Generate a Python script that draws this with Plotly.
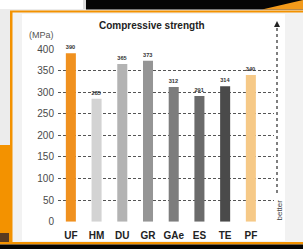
import plotly.graph_objects as go

categories = ["UF", "HM", "DU", "GR", "GAe", "ES", "TE", "PF"]
strength = [390, 285, 365, 373, 312, 291, 314, 340]
bar_colors = ["#f0911f", "#d3d3d3", "#b3b3b3", "#959595", "#7d7d7d", "#6b6b6b", "#4a4a4a", "#f6c987"]
y_ticks = [0, 50, 100, 150, 200, 250, 300, 350, 400]

W, H = 303, 249


def px(x):
    return x / W


def py(y):
    return 1 - y / H


fig = go.Figure()
fig.add_trace(go.Bar(
    x=categories, y=strength,
    marker=dict(color=bar_colors, line=dict(width=0)),
    width=0.39,
    text=["<b>%d</b>" % v for v in strength],
    textposition="outside",
    textfont=dict(size=6, color="#333333", family="Liberation Sans"),
    cliponaxis=False,
    hoverinfo="skip",
))

shapes = []
def rect(x0, y0, x1, y1, color, layer="below"):
    shapes.append(dict(type="rect", xref="paper", yref="paper",
                       x0=px(x0), x1=px(x1), y0=py(y1), y1=py(y0),
                       fillcolor=color, line=dict(width=0), layer=layer))

# background pieces of the photographed page
rect(0, 0, 303, 249, "#ececec")
rect(12, 12, 303, 243, "#f2f2f2")
rect(22, 14, 285, 241, "#ffffff")
rect(0, 0, 83, 9, "#ffffff")
rect(83, 0, 86, 9, "#dddddd")
rect(86, 0, 303, 9.5, "#050505")
shapes.append(dict(type="path", xref="paper", yref="paper",
                   path=f"M {px(262)},{py(9.5)} L {px(303)},{py(0)} L {px(303)},{py(9.5)} Z",
                   fillcolor="#f39a1a", line=dict(width=0), layer="below"))
rect(0, 145, 11, 244, "#f39200")
rect(0, 233, 9, 244, "#5a3a20")
rect(10, 11, 12.5, 244, "#f39200")
rect(10, 10.5, 303, 12.5, "#f39200")
rect(0, 242, 303, 244.5, "#f39200")
rect(0, 244.5, 303, 249, "#050505")

# "better" dotted arrow
shapes.append(dict(type="line", xref="paper", yref="paper",
                   x0=px(277), x1=px(277), y0=py(193), y1=py(26),
                   line=dict(color="#555555", width=1.5, dash="dot")))
shapes.append(dict(type="path", xref="paper", yref="paper",
                   path=f"M {px(274)},{py(27)} L {px(280)},{py(27)} L {px(277)},{py(21)} Z",
                   fillcolor="#222222", line=dict(width=0)))

annotations = [
    dict(text="<b>Compressive strength</b>", xref="paper", yref="paper",
         x=px(152), y=py(25), xanchor="center", yanchor="middle", showarrow=False,
         font=dict(size=10, color="#222222", family="Liberation Sans")),
    dict(text="(MPa)", xref="paper", yref="paper", x=px(41), y=py(35),
         xanchor="center", yanchor="middle",
         showarrow=False, font=dict(size=9, color="#555555", family="Liberation Sans")),
    dict(text="better", xref="paper", yref="paper", x=px(278.5), y=py(210),
         xanchor="center", yanchor="middle",
         textangle=-90, showarrow=False,
         font=dict(size=8, color="#444444", family="Liberation Sans Narrow, Liberation Sans")),
]

fig.update_layout(
    width=W, height=H,
    autosize=False,
    margin=dict(l=0, r=0, t=0, b=0, pad=0, autoexpand=False),
    paper_bgcolor="#ececec",
    plot_bgcolor="rgba(0,0,0,0)",
    showlegend=False,
    shapes=shapes,
    annotations=annotations,
    xaxis=dict(domain=[px(58), px(274)], range=[-0.5, 7.9], showgrid=False,
               showline=False, zeroline=False, ticks="", automargin=False,
               ticklabelstandoff=6,
               tickfont=dict(size=10, color="#222222", family="Liberation Sans"),
               tickprefix="<b>", ticksuffix="</b>", fixedrange=True),
    yaxis=dict(domain=[py(221.7), py(49)], range=[0, 400], tickvals=y_ticks,
               showgrid=True, gridcolor="#555555", griddash="3px,2px", gridwidth=1,
               zeroline=False, showline=False, ticks="", automargin=False,
               ticklabelstandoff=3,
               tickfont=dict(size=10, color="#4a4a4a", family="Liberation Sans"),
               fixedrange=True),
)

post = ("document.documentElement.style.margin='0';"
        "document.documentElement.style.overflow='hidden';"
        "document.body.style.margin='0';document.body.style.overflow='hidden';"
        "var g=document.getElementById('{plot_id}');"
        "g.style.position='fixed';g.style.left='0px';g.style.top='0px';")
fig.write_html("out.html", config={"displayModeBar": False}, post_script=post)
